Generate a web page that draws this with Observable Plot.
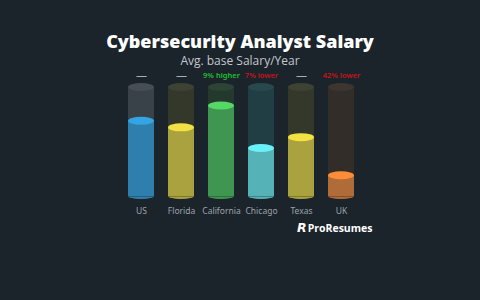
<!DOCTYPE html>
<html>
<head>
<meta charset="utf-8">
<script src="https://cdn.jsdelivr.net/npm/d3@7"></script>
<script src="https://cdn.jsdelivr.net/npm/@observablehq/plot@0.6"></script>
<style>
  html, body { margin: 0; padding: 0; background: #1b232b; }
  #wrap { position: relative; width: 480px; height: 300px; background: #1b232b; overflow: hidden; }
  #title { position: absolute; left: 0; top: 30px; width: 480px; text-align: center; color: #ffffff;
           font-family: "Open Sans", sans-serif; font-weight: 800; font-size: 18px; line-height: 22px; }
  #subtitle { position: absolute; left: 0; top: 53px; width: 480px; text-align: center; color: #c4c8cc;
              font-family: "Open Sans", sans-serif; font-weight: 400; font-size: 12px; line-height: 15px; }
  #chart { position: absolute; left: 0; top: 67px; }
  #logo { position: absolute; left: 297px; top: 220px; color: #ffffff; font-family: "Open Sans", sans-serif;
          font-weight: 700; font-size: 10.5px; line-height: 16px; white-space: nowrap; }
  #logo .mark { font-family: "DejaVu Sans", sans-serif; font-weight: 900; font-size: 12.5px; margin-right: 1px; font-style: italic; }
</style>
</head>
<body>
<div id="wrap">
  <div id="title">Cybersecurity Analyst Salary</div>
  <div id="subtitle">Avg. base Salary/Year</div>
  <div id="chart"></div>
  <div id="logo"><span class="mark">R</span>ProResumes</div>
</div>
<script>
const categories = ["US", "Florida", "California", "Chicago", "Texas", "UK"];
const values = [69, 63, 83, 44, 54, 19];
const notes = ["—", "—", "9% higher", "7% lower", "—", "42% lower"];
const noteKinds = ["none", "none", "up", "down", "none", "down"];

const tubeBody = ["#3a4249", "#34382b", "#24392d", "#213e45", "#33382b", "#332d29"];
const tubeTop  = ["#464d54", "#3e4232", "#2b4434", "#28484f", "#3e4232", "#3d352f"];
const liquid   = ["#2f7fae", "#aaa23f", "#3f9651", "#55b2b6", "#aaa23f", "#b06c38"];
const surface  = ["#33a5e4", "#f2e044", "#55d866", "#68f1f7", "#f4e142", "#ff8d38"];
const noteColor = {none: "#a7adb2", up: "#22c233", down: "#c8141b"};

const data = categories.map((c, i) => ({
  cat: c, value: values[i], note: notes[i], kind: noteKinds[i],
  tubeBody: tubeBody[i], tubeTop: tubeTop[i], liquid: liquid[i], surface: surface[i]
}));

const chart = Plot.plot({
  width: 480,
  height: 233,
  marginLeft: 120,
  marginRight: 119,
  marginTop: 20,
  marginBottom: 104,
  style: {background: "transparent", overflow: "visible"},
  x: {domain: categories, paddingInner: 0.35, paddingOuter: 0.175, axis: null},
  y: {domain: [0, 100], axis: null},
  color: {type: "identity"},
  marks: [
    Plot.barY(data, {x: "cat", y1: 0, y2: 100, fill: "tubeBody"}),
    Plot.barY(data, {x: "cat", y1: 0, y2: 0, insetTop: -3, insetBottom: -3, rx: 30, ry: 3, fill: "tubeBody"}),
    Plot.barY(data, {x: "cat", y1: 100, y2: 100, insetTop: -4, insetBottom: -4, rx: 30, ry: 4, fill: "tubeTop"}),
    Plot.barY(data, {x: "cat", y1: 0, y2: "value", fill: "liquid"}),
    Plot.barY(data, {x: "cat", y1: 0, y2: 0, insetTop: -3, insetBottom: -3, rx: 30, ry: 3, fill: "liquid"}),
    Plot.tickY(data, {x: "cat", y: 0, stroke: "#000000", strokeOpacity: 0.25, strokeWidth: 1}),
    Plot.barY(data, {x: "cat", y1: "value", y2: "value", insetTop: -4, insetBottom: -4, rx: 30, ry: 4, fill: "surface"}),
    Plot.text(data, {x: "cat", y: 0, text: "cat", dy: 15, fill: "#9ea4a9", fontSize: 8.5,
      fontFamily: "'Noto Sans', sans-serif"}),
    Plot.text(data.filter(d => d.kind !== "none"), {x: "cat", y: 100, text: "note", dy: -12, fill: d => noteColor[d.kind], fontSize: 7.5,
      fontWeight: 600, fontFamily: "'Noto Sans', sans-serif"}),
    Plot.text(data.filter(d => d.kind === "none"), {x: "cat", y: 100, text: "note", dy: -12, fill: noteColor.none, fontSize: 11,
      fontWeight: 400, fontFamily: "'Noto Sans', sans-serif"})
  ]
});
document.getElementById("chart").appendChild(chart);
</script>
</body>
</html>
